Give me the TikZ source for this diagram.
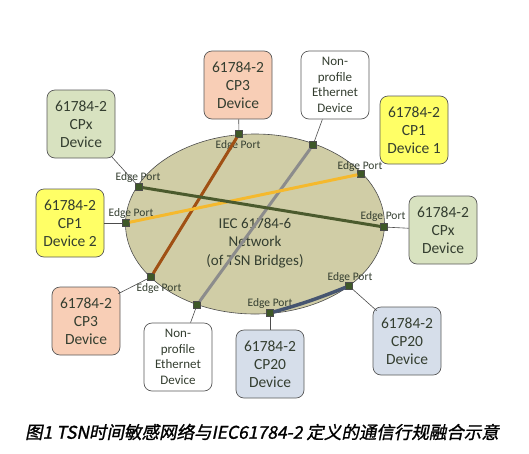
\documentclass[tikz,border=0pt]{standalone}
\usepackage{fontspec}
\setmainfont{Carlito}
\newfontfamily\cjk[FakeSlant=0.2, FakeBold=1.2]{Noto Sans CJK SC}
\usetikzlibrary{shapes.geometric}

\definecolor{cpxgreen}{RGB}{216,226,192}
\definecolor{cpthree}{RGB}{248,206,182}
\definecolor{cpone}{RGB}{255,255,102}
\definecolor{cptwenty}{RGB}{214,222,234}
\definecolor{netfill}{RGB}{208,205,166}
\definecolor{portgreen}{RGB}{62,88,40}
\definecolor{txtgray}{RGB}{52,62,48}

\begin{document}
\begin{tikzpicture}[x=1pt, y=-1pt,
  dev/.style={draw=black!65, line width=0.7pt, rounded corners=8pt, minimum width=68pt, minimum height=68pt, align=center, text=txtgray, font=\fontsize{15.5}{18}\selectfont},
  npdev/.style={dev, fill=white, font=\fontsize{13}{15.5}\selectfont},
  port/.style={rectangle, draw=black!70, fill=portgreen, inner sep=0pt, minimum size=7pt},
  lbl/.style={text=txtgray, font=\fontsize{11.5}{12}\selectfont, inner sep=0pt},
  tie/.style={draw=black!70, line width=0.6pt}]

  \useasboundingbox (0,0) rectangle (529,453);

  \node[ellipse, draw=black!70, line width=0.6pt, fill=netfill, minimum width=259pt, minimum height=180pt] (net) at (255,224) {};
  \node[align=center, text=txtgray, font=\fontsize{15}{18.5}\selectfont] (netlbl) at (255,243) {IEC 61784-6\\Network\\(of TSN Bridges)};

  % devices
  \node[dev, fill=cpxgreen] (cpxA) at (81,124) {61784-2\\CPx\\Device};
  \node[dev, fill=cpthree] (cp3A) at (238,85) {61784-2\\CP3\\Device};
  \node[npdev] (npA) at (335,85) {Non-\\profile\\Ethernet\\Device};
  \node[dev, fill=cpone] (cp1A) at (414,130) {61784-2\\CP1\\Device 1};
  \node[dev, fill=cpone] (cp1B) at (70,223) {61784-2\\CP1\\Device 2};
  \node[dev, fill=cpxgreen] (cpxB) at (443,230) {61784-2\\CPx\\Device};
  \node[dev, fill=cpthree] (cp3B) at (86,321) {61784-2\\CP3\\Device};
  \node[npdev] (npB) at (178,357) {Non-\\profile\\Ethernet\\Device};
  \node[dev, fill=cptwenty] (cp20A) at (270,364) {61784-2\\CP20\\Device};
  \node[dev, fill=cptwenty] (cp20B) at (407,341) {61784-2\\CP20\\Device};

  % edge ports
  \node[port] (pcp3A) at (239,134) {};
  \node[port] (pnpA) at (313,145) {};
  \node[port] (pcp1A) at (361,174) {};
  \node[port] (pcpxA) at (139,187) {};
  \node[port] (pcp1B) at (126,223) {};
  \node[port] (pcpxB) at (384,227) {};
  \node[port] (pcp3B) at (151,277) {};
  \node[port] (pnpB) at (197,305) {};
  \node[port] (pcp20A) at (270,313) {};
  \node[port] (pcp20B) at (349,286) {};

  \node[lbl] (ecp3A) at (238,145) {Edge Port};
  \node[lbl] (ecpxA) at (138,177) {Edge Port};
  \node[lbl] (ecp1B) at (131,213) {Edge Port};
  \node[lbl] (ecp1A) at (360,166) {Edge Port};
  \node[lbl] (ecpxB) at (383,216) {Edge Port};
  \node[lbl] (ecp3B) at (159,288) {Edge Port};
  \node[lbl] (ecp20A) at (270,303) {Edge Port};
  \node[lbl] (ecp20B) at (350,277) {Edge Port};

  % device to port
  \draw[tie] (cpxA.south east) ++(-4,-2) -- (pcpxA);
  \draw[tie] (cp3A) -- (pcp3A);
  \draw[tie] (npA) -- (pnpA);
  \draw[tie] (cp1B) -- (pcp1B);
  \draw[tie] (cpxB) -- (pcpxB);
  \draw[tie] (cp3B.north east) ++(-2,7) -- (pcp3B);
  \draw[tie] (npB) -- (pnpB);
  \draw[tie] (cp20A) -- (pcp20A);
  \draw[tie] (cp20B.north west) ++(4,4) -- (pcp20B);

  % streams across the network
  \draw[line width=3pt, color={rgb,255:red,160;green,80;blue,20}] (pcp3A) -- (pcp3B);
  \draw[line width=3pt, color={rgb,255:red,140;green,140;blue,140}] (pnpA) -- (pnpB);
  \draw[line width=3pt, color={rgb,255:red,245;green,185;blue,45}] (pcp1A) -- (pcp1B);
  \draw[line width=3pt, color={rgb,255:red,75;green,90;blue,45}] (pcpxA) -- (pcpxB);
  \draw[line width=3.5pt, color={rgb,255:red,70;green,85;blue,112}] (pcp20A) to[bend right=3] (pcp20B);

  \node[font=\cjk\fontsize{17.5}{20}\selectfont] (cap) at (262,432) {图1 TSN时间敏感网络与IEC61784-2 定义的通信行规融合示意};

\end{tikzpicture}
\end{document}
